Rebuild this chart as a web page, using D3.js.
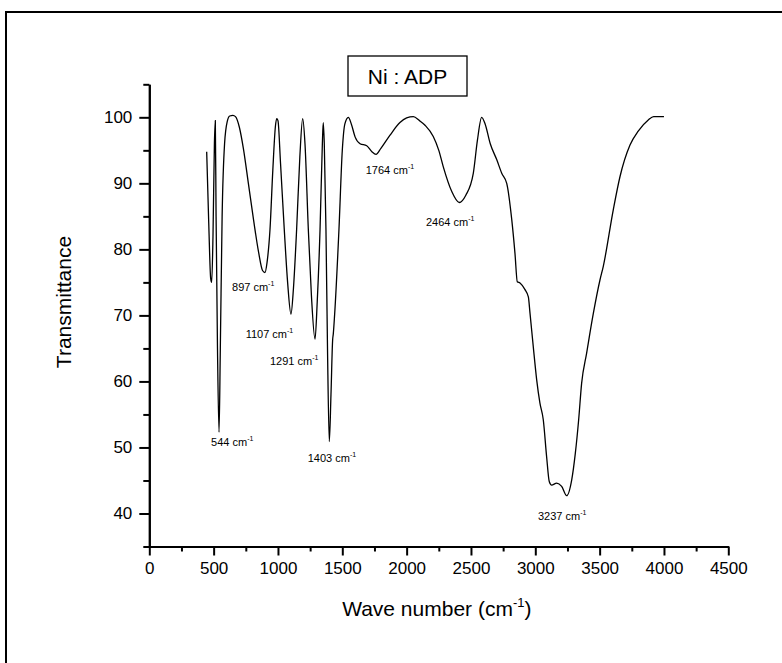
<!DOCTYPE html>
<html lang="en">

<head>
    <meta charset="UTF-8">
    <title>Ni : ADP - FTIR spectrum</title>
    <style>
        body { margin: 0; background: #fff; }
        text { font-family: "Liberation Sans", Arial, sans-serif; fill: #000; }
    </style>
</head>

<body>
    <div id="my_dataviz"></div>
    <script src="https://d3js.org/d3.v7.min.js"></script>
    <script>

        // spectrum: wave number (cm-1) and transmittance
        var waveNumber = [446, 462, 477, 485, 495, 506, 513, 519, 530, 542, 552, 566, 585, 606, 625, 650, 670, 700, 731, 770,
            810, 850, 880, 899, 915, 938, 960, 980, 990, 1000, 1020, 1049, 1075, 1101, 1120, 1145, 1170, 1192, 1210, 1236,
            1260, 1288, 1305, 1327, 1345, 1352, 1360, 1373, 1385, 1399, 1412, 1425, 1430, 1440, 1474, 1500, 1520, 1547, 1570, 1600,
            1638, 1690, 1730, 1762, 1800, 1871, 1948, 2000, 2052, 2100, 2143, 2207, 2250, 2285, 2350, 2409, 2460, 2518, 2550, 2583,
            2610, 2650, 2700, 2740, 2778, 2817, 2842, 2860, 2881, 2920, 2946, 2959, 2984, 3011, 3036, 3062, 3088, 3109, 3127, 3166,
            3205, 3244, 3283, 3311, 3337, 3360, 3399, 3451, 3503, 3528, 3606, 3658, 3736, 3800, 3878, 3920, 4000];
        var transmittance = [94.8, 84, 75.6, 75.0, 82, 96, 99.5, 85, 65, 52.3, 65, 85, 96, 99.4, 100.2, 100.3, 100.1, 98.5, 95.3, 90,
            84.5, 79.5, 76.8, 76.5, 78, 83, 92, 98.6, 99.8, 99.5, 93, 83, 75, 70.2, 74, 83, 94, 99.8, 96, 83,
            73, 66.4, 72, 83, 96, 99.2, 96, 83, 65, 50.9, 58, 66.3, 67.2, 70, 83, 95, 99, 100, 99, 97,
            96, 95.7, 94.8, 94.4, 95.3, 97.3, 99.2, 99.9, 100.1, 99.5, 98.8, 97.1, 95, 92.5, 88.8, 87.1, 88.2, 91.5, 96.5, 100.0,
            99, 96, 93.6, 91.5, 90.0, 84.5, 79.4, 75.1, 74.9, 73.9, 72.8, 70.3, 65.3, 60.2, 56.7, 54.2, 48.6, 44.8, 44.3, 44.6,
            44.1, 42.7, 45.1, 49.1, 54.2, 59.7, 64.3, 70.3, 75.4, 77.4, 86.0, 91.0, 95.8, 97.9, 99.6, 100.1, 100.1];

        // peak labels and where they sit (data units)
        var peakLabels = ["544", "897", "1107", "1291", "1403", "1764", "2464", "3237"];
        var labelWave = [480, 643, 749, 938, 1231, 1682, 2150, 3021];
        var labelT = [50.2, 73.7, 66.6, 62.5, 47.8, 91.4, 83.5, 39.0];

        // ticks
        var xTicks = [0, 500, 1000, 1500, 2000, 2500, 3000, 3500, 4000, 4500];
        var xMinor = [250, 750, 1250, 1750, 2250, 2750, 3250, 3750, 4250];
        var yTicks = [40, 50, 60, 70, 80, 90, 100];
        var yMinor = [35, 45, 55, 65, 75, 85, 95, 105];

        var W = 782, H = 663;
        var margin = { top: 84.3, left: 149.3 },
            width = 728.3 - margin.left,
            height = 546.5 - margin.top;

        var svg = d3.select("#my_dataviz")
            .append("svg")
            .attr("width", W)
            .attr("height", H);

        // outer frame (runs off the right and bottom edges)
        svg.append("rect")
            .attr("x", 6).attr("y", 12)
            .attr("width", 820).attr("height", 700)
            .attr("fill", "none")
            .attr("stroke", "#000")
            .attr("stroke-width", 2);

        var g = svg.append("g")
            .attr("transform", "translate(" + margin.left + "," + margin.top + ")");

        var x = d3.scaleLinear().domain([0, 4500]).range([0, width]);
        var y = d3.scaleLinear().domain([35, 105]).range([height, 0]);

        // minor ticks first, then the major axis on top
        g.append("g")
            .attr("transform", "translate(0," + height + ")")
            .call(d3.axisBottom(x).tickValues(xMinor).tickSize(5).tickSizeOuter(0).tickFormat(""));
        g.append("g")
            .call(d3.axisLeft(y).tickValues(yMinor).tickSize(6).tickSizeOuter(0).tickFormat(""));

        g.append("g")
            .attr("transform", "translate(0," + height + ")")
            .call(d3.axisBottom(x).tickValues(xTicks).tickSize(9).tickSizeOuter(0).tickPadding(6)
                .tickFormat(d3.format("d")));
        g.append("g")
            .call(d3.axisLeft(y).tickValues(yTicks).tickSize(10).tickSizeOuter(0).tickPadding(7)
                .tickFormat(d3.format("d")));

        g.selectAll(".domain, .tick line")
            .attr("stroke", "#000")
            .attr("stroke-width", 2);
        g.selectAll(".tick text")
            .style("font-family", "'Liberation Sans', Arial, sans-serif")
            .style("font-size", "17px");

        // spectrum
        var points = waveNumber.map(function (d, i) { return [d, transmittance[i]]; });
        g.append("path")
            .datum(points)
            .attr("fill", "none")
            .attr("stroke", "#000")
            .attr("stroke-width", 1.3)
            .attr("d", d3.line()
                .curve(d3.curveMonotoneX)
                .x(function (d) { return x(d[0]); })
                .y(function (d) { return y(d[1]); }));

        // peak annotations
        peakLabels.forEach(function (lab, i) {
            var t = g.append("text")
                .attr("x", x(labelWave[i]))
                .attr("y", y(labelT[i]))
                .style("font-size", "11px");
            t.append("tspan").text(lab + " cm");
            t.append("tspan").attr("dy", -5).style("font-size", "7px").text("-1");
        });

        // title box
        svg.append("rect")
            .attr("x", 348).attr("y", 56)
            .attr("width", 119).attr("height", 40)
            .attr("fill", "none")
            .attr("stroke", "#000")
            .attr("stroke-width", 1.3);
        svg.append("text")
            .attr("x", 407.5).attr("y", 84)
            .attr("text-anchor", "middle")
            .style("font-size", "21px")
            .text("Ni : ADP");

        // axis titles
        var xt = svg.append("text")
            .attr("x", margin.left + width / 2 - 2)
            .attr("y", 616)
            .attr("text-anchor", "middle")
            .style("font-size", "21px");
        xt.append("tspan").text("Wave number (cm");
        xt.append("tspan").attr("dy", -9).style("font-size", "13px").text("-1");
        xt.append("tspan").attr("dy", 9).text(")");

        svg.append("text")
            .attr("transform", "translate(71,302)rotate(-90)")
            .attr("text-anchor", "middle")
            .style("font-size", "21px")
            .text("Transmittance");

    </script>
</body>

</html>
